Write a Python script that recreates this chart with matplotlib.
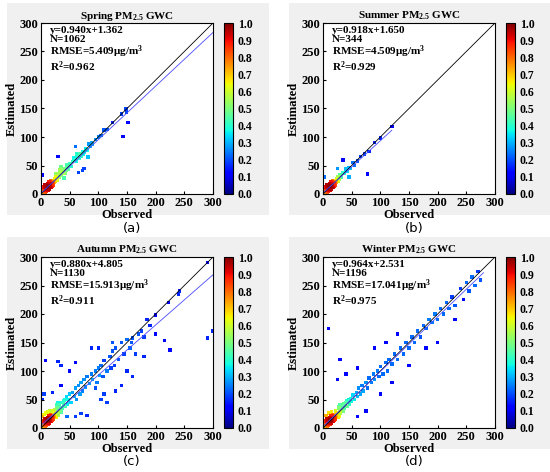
import numpy as np
import matplotlib.pyplot as plt
import matplotlib.patches as mpatches

plt.rcParams['font.family'] = ['Liberation Serif', 'DejaVu Serif']
plt.rcParams['font.weight'] = 'bold'
plt.rcParams['mathtext.fontset'] = 'custom'
plt.rcParams['mathtext.rm'] = 'Liberation Serif:bold'
plt.rcParams['mathtext.bf'] = 'Liberation Serif:bold'
plt.rcParams['mathtext.default'] = 'rm'

seasons = ['Spring', 'Summer', 'Autumn', 'Winter']
slopes = [0.940, 0.918, 0.880, 0.964]
intercepts = [1.362, 1.650, 4.805, 2.531]
fit_end = [300, 120, 300, 280]
n_obs = [1062, 344, 1130, 1196]
rmse = [5.409, 4.509, 15.913, 17.041]
r2 = [0.962, 0.929, 0.911, 0.975]
panel_labels = ['(a)', '(b)', '(c)', '(d)']

# dense low-concentration core shared shape (observed, estimated)
core_pts = [(2,3),(3,1),(4,6),(5,4),(6,8),(7,5),(8,10),(9,7),(10,12),(11,9),(12,14),(13,11),(14,16),
    (15,13),(16,18),(17,14),(18,20),(19,16),(20,22),(21,18),(22,24),(23,20),(3,9),(6,14),(9,16),(12,6),
    (15,8),(18,11),(5,12),(8,3),(11,18),(14,21),(17,23),(20,13),(4,2),(7,11),(10,4),(13,7),(2,7),(6,1),
    (9,12),(12,10),(16,11),(19,19),(1,4),(4,10),(8,14),(13,17),(16,21),(21,15),(24,26),(25,22),(10,8),
    (14,9),(7,16),(3,13)]
spring_pts = core_pts + [
    (26,30),(28,27),(30,33),(32,29),(34,38),(36,32),(38,40),(40,36),(42,45),(44,41),(46,48),(48,44),
    (27,35),(29,24),(33,42),(31,36),(37,36),(39,44),(43,37),(45,51),(47,45),
    (50,53),(52,48),(55,57),(58,60),(60,64),(62,58),(65,68),(68,70),(70,66),(72,75),(75,73),(78,80),
    (80,77),(84,88),(88,90),(90,88),(95,96),(100,100),(105,103),(110,112),(115,113),(125,125),(140,140),
    (148,149),(149,143),(152,125),(143,101),(30,66),(60,83),(2,33),(65,38),(72,41),(75,45),(82,65),
    (35,48),(25,36),(40,28),(57,63),(63,70),(67,62),(74,70),(86,84)]
summer_pts = core_pts + [(26,30),(28,26),(30,34),(32,29),(35,37),(27,22),(29,32),
    (38,36),(40,44),(42,39),(45,47),(48,45),(52,55),(55,50),(60,58),(65,66),(72,70),(80,75),(90,90),
    (100,98),(120,118),(78,35),(35,60),(2,30),(25,45),(45,30)]
autumn_pts = core_pts + [(5,24),(8,26),(12,28),(16,30),(20,30),(24,32),(3,20),(26,18),
    (28,35),(30,28),(32,40),(34,30),(36,45),(38,35),(40,48),(42,38),(44,55),(46,42),(48,50),(50,60),
    (30,45),(33,36),(36,28),(39,42),(42,50),(27,40),(31,22),
    (52,45),(55,62),(58,55),(60,70),(62,50),(65,75),(68,60),(70,80),(72,65),(75,85),(78,72),(80,90),
    (85,78),(88,95),(90,85),(95,100),(98,80),(100,105),(102,92),(105,110),(108,90),(110,118),(115,100),
    (120,125),(122,105),(125,135),(128,110),(130,140),(135,120),(140,150),(145,130),(150,155),(155,140),
    (158,150),(160,158),(165,130),(170,165),(175,170),(180,160),(185,190),(190,180),(200,198),(200,165),
    (215,153),(225,137),(222,220),(240,235),(242,240),(290,290),(290,158),(300,170),(8,118),(30,117),
    (5,60),(2,50),(20,62),(35,110),(60,20),(70,25),(80,22),(95,70),(110,60),(105,50),(130,65),(150,100),
    (160,90),(180,125),(140,75),(115,45),(45,20),(50,100),(35,75),(125,150),(60,115),(88,140),(100,140)]
winter_pts = core_pts + [(26,18),(5,22),(10,26),(15,28),(22,30),(28,20),
    (28,35),(30,28),(32,38),(34,30),(36,42),(38,35),(40,45),(42,38),(44,50),(46,42),(48,52),(50,46),
    (30,40),(33,33),(36,30),(39,40),(42,48),(27,38),(31,25),(45,45),
    (52,58),(55,50),(58,62),(60,55),(62,70),(65,60),(68,75),(70,65),(75,80),(78,70),(80,88),(85,80),
    (88,95),(90,85),(95,100),(98,90),(100,108),(105,95),(110,115),(112,100),(115,120),(120,112),
    (125,130),(130,120),(135,140),(140,130),(145,150),(150,140),(155,160),(160,150),(165,170),(170,160),
    (175,180),(180,175),(185,190),(190,185),(195,200),(200,190),(205,210),(210,200),(215,220),(220,210),
    (225,230),(230,215),(240,245),(245,225),(250,255),(255,240),(260,265),(265,250),(270,275),(275,260),
    (10,175),(30,120),(25,85),(40,95),(60,20),(75,30),(100,60),(120,80),(150,110),(180,140),(200,150),
    (230,190),(90,140),(130,165),(60,105),(110,150)]
all_pts = [spring_pts, summer_pts, autumn_pts, winter_pts]

fig = plt.figure(figsize=(5.5, 4.72), dpi=100)
W, H = 550, 472
offsets = [(0, 0), (282, 0), (0, 234), (282, 234)]

for i, (dx, dy) in enumerate(offsets):
    fig.patches.append(mpatches.Rectangle(((dx + 7) / W, 1 - (dy + 215) / H), 262 / W, 212 / H,
                                          transform=fig.transFigure, facecolor='#f0f0f0', edgecolor='none', zorder=-1))
    ax = fig.add_axes([(dx + 41) / W, 1 - (dy + 194) / H, 172 / W, 171 / H])
    cax = fig.add_axes([(dx + 224) / W, 1 - (dy + 194) / H, 9 / W, 171 / H])
    pts = np.array(all_pts[i], dtype=float)
    x, y = pts[:, 0], pts[:, 1]
    d = np.sqrt((x[:, None] - x[None, :]) ** 2 + (y[:, None] - y[None, :]) ** 2)
    dens = (d < 16).sum(axis=1).astype(float)
    dens = (dens - dens.min()) / (dens.max() - dens.min())
    dens = 0.13 + 0.85 * dens ** 0.8
    order = np.argsort(dens)
    sc = ax.scatter(x[order], y[order], c=dens[order], cmap='jet', vmin=0, vmax=1, s=6, marker='s', linewidths=0)
    ax.plot([0, 300], [0, 300], color='black', lw=0.6)
    xe = np.array([0, fit_end[i]])
    ax.plot(xe, slopes[i] * xe + intercepts[i], color='#4a4aff', lw=0.6)
    ax.set_xlim(0, 300)
    ax.set_ylim(0, 300)
    ax.set_xticks(range(0, 301, 50))
    ax.set_yticks(range(0, 301, 50))
    ax.tick_params(labelsize=9, length=2, direction='in', pad=2)
    ax.set_xlabel('Observed', fontsize=9, fontweight='bold', labelpad=0)
    ax.set_ylabel('Estimated', fontsize=9, fontweight='bold', labelpad=1)
    ax.set_title(seasons[i] + ' PM$_{2.5}$ GWC', fontsize=8, fontweight='bold', pad=3)
    txt = ('y=%.3fx+%.3f\nN=%d\nRMSE=%.3f\u03bcg/m$^{3}$\nR$^{2}$=%.3f'
           % (slopes[i], intercepts[i], n_obs[i], rmse[i], r2[i]))
    ax.text(0.05, 0.98, txt, transform=ax.transAxes, va='top', ha='left', fontsize=8,
            fontweight='bold', linespacing=0.95)
    cb = fig.colorbar(sc, cax=cax, ticks=np.arange(0, 1.01, 0.1))
    cb.ax.tick_params(labelsize=8.5, length=0)
    cb.ax.set_yticklabels(['%.1f' % t for t in np.arange(0, 1.01, 0.1)])
    fig.text((dx + 132) / W, 1 - (dy + 228) / H, panel_labels[i], ha='center', va='center',
             fontsize=9.5, fontweight='normal', family='DejaVu Sans')

fig.savefig('out.png', dpi=100)
